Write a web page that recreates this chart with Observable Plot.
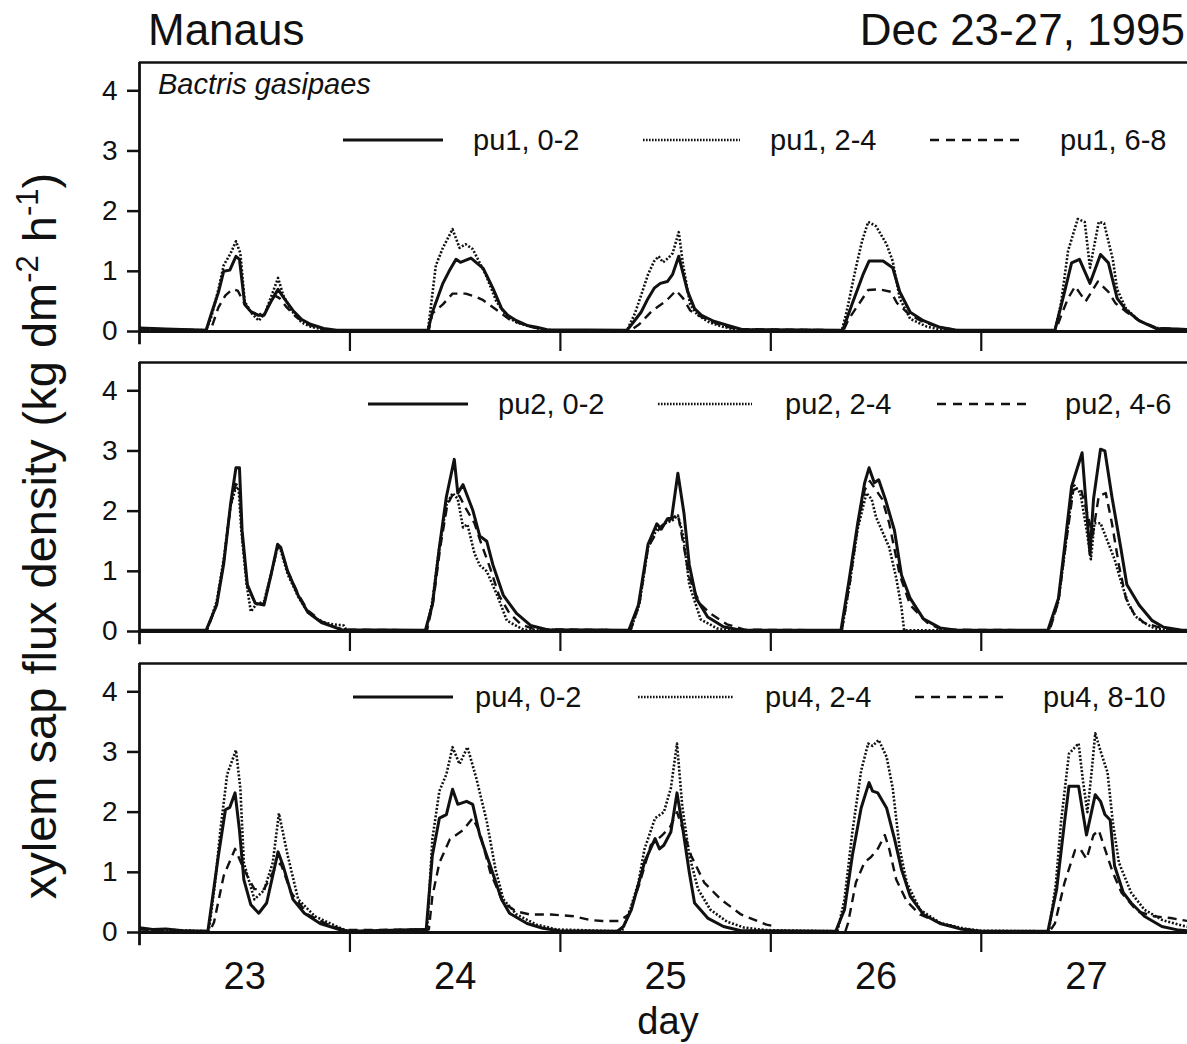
<!DOCTYPE html>
<html><head><meta charset="utf-8">
<script src="https://cdn.jsdelivr.net/npm/d3@7"></script>
<script src="https://cdn.jsdelivr.net/npm/@observablehq/plot@0.6"></script>
<style>
body{margin:0;background:#fff;}
#wrap{position:relative;width:1187px;height:1044px;overflow:hidden;background:#fff;font-family:"Liberation Sans",Arial,Helvetica,sans-serif;}
.panel{position:absolute;left:0;}
#overlay{position:absolute;left:0;top:0;}
</style></head><body><div id="wrap"></div>
<script>
// ---- data: [hour since 0:00 Dec 23, sap flux density] ----
const pu1_0_2 = [[0,0.06],[3,0.04],[7.6,0.02],[8.2,0.3],[9.0,0.65],[9.6,1.0],[10.3,1.02],[11.0,1.25],[11.4,1.2],[12.0,0.45],[12.7,0.33],[13.5,0.27],[14.2,0.27],[15.0,0.5],[15.8,0.7],[16.5,0.55],[17.5,0.35],[18.5,0.2],[19.5,0.12],[21,0.05],[22.5,0.02],
 [32.9,0.02],[33.4,0.32],[34.6,0.8],[35.3,1.0],[36.1,1.2],[36.6,1.15],[37.8,1.22],[39.2,1.05],[40.3,0.72],[41.3,0.38],[42.0,0.27],[43.0,0.18],[44.2,0.1],[45.3,0.07],[46.5,0.03],
 [55.6,0.02],[56.3,0.15],[57.2,0.32],[58.0,0.55],[58.7,0.72],[59.4,0.8],[60.2,0.83],[60.8,0.95],[61.5,1.25],[62.5,0.67],[63.3,0.38],[64.1,0.27],[65.5,0.17],[67.1,0.1],[68.8,0.03],
 [80.2,0.02],[81.3,0.47],[82.5,0.94],[83.2,1.17],[84.8,1.17],[85.9,1.06],[86.7,0.66],[87.9,0.32],[89.4,0.18],[91.3,0.07],[93.2,0.02],
 [104.4,0.02],[105.5,0.66],[106.3,1.14],[107.2,1.2],[108.4,0.8],[109.6,1.28],[110.5,1.14],[111.5,0.55],[112.5,0.36],[114.0,0.18],[115.9,0.05],[118.3,0.04],[120,0.03]];
const pu1_2_4 = [[0,0.04],[7.6,0.02],[8.2,0.25],[9.0,0.7],[9.6,1.1],[10.4,1.3],[11.0,1.5],[11.5,1.3],[12.0,0.5],[12.8,0.3],[13.6,0.18],[14.3,0.3],[15.2,0.65],[15.8,0.89],[16.4,0.6],[17.3,0.35],[18.5,0.15],[19.5,0.08],[21,0.03],[23,0.01],
 [32.9,0.02],[33.3,0.5],[33.8,1.1],[34.6,1.39],[35.7,1.7],[36.5,1.39],[37.2,1.45],[38.0,1.37],[39.5,0.94],[40.7,0.5],[41.9,0.25],[43.0,0.15],[44.2,0.1],[45.5,0.05],[47,0.02],
 [55.6,0.02],[56.5,0.3],[57.2,0.6],[58.0,0.95],[58.7,1.17],[59.2,1.25],[59.7,1.15],[60.3,1.22],[60.8,1.3],[61.5,1.65],[62.0,1.1],[62.8,0.45],[63.6,0.28],[65,0.15],[66.5,0.08],[68,0.03],
 [80.1,0.02],[80.6,0.3],[81.7,1.06],[82.4,1.5],[83.1,1.82],[84.0,1.75],[85.2,1.45],[85.9,1.17],[86.7,0.55],[87.9,0.21],[89.8,0.08],[91.7,0.02],
 [104.4,0.02],[105.1,0.47],[105.9,1.34],[107.0,1.87],[107.8,1.82],[108.4,1.06],[109.4,1.82],[110.0,1.8],[111.0,1.2],[111.5,0.7],[112.5,0.38],[114.0,0.18],[115.9,0.06],[118,0.03],[120,0.02]];
const pu1_6_8 = [[0,0.05],[7.8,0.02],[8.3,0.1],[9.0,0.4],[9.8,0.6],[10.6,0.7],[11.2,0.68],[12.0,0.45],[12.8,0.33],[13.6,0.27],[14.4,0.35],[15.4,0.6],[16.0,0.55],[16.8,0.4],[17.8,0.25],[19,0.13],[20.5,0.05],[22,0.02],
 [33.0,0.02],[33.4,0.3],[34.6,0.45],[35.7,0.63],[37.2,0.63],[38.3,0.58],[39.2,0.52],[40.7,0.36],[42.2,0.2],[44.5,0.08],[46.5,0.02],
 [56.0,0.02],[57.0,0.12],[58.5,0.35],[60.0,0.5],[61.2,0.68],[62.0,0.55],[62.8,0.35],[64.0,0.25],[66,0.12],[68,0.04],
 [80.3,0.02],[80.9,0.21],[82.1,0.47],[83.1,0.69],[84.4,0.7],[85.7,0.66],[86.4,0.47],[87.9,0.27],[89.5,0.15],[91.5,0.06],[93.5,0.02],
 [104.5,0.02],[105.2,0.3],[105.9,0.55],[106.7,0.75],[107.9,0.5],[109.3,0.83],[110.5,0.66],[111.3,0.47],[112.5,0.33],[114,0.18],[116,0.06],[118.5,0.04],[120,0.03]];

const pu2_0_2 = [[0,0.02],[7.6,0.02],[8.8,0.44],[9.6,1.12],[10.4,2.13],[11.0,2.72],[11.4,2.72],[11.7,1.68],[12.3,0.78],[13.2,0.47],[14.2,0.44],[15.0,0.94],[15.75,1.45],[16.1,1.4],[16.9,1.0],[18.1,0.6],[19.2,0.32],[20.75,0.15],[23.0,0.03],
 [32.6,0.02],[33.4,0.44],[34.2,1.4],[35.0,2.24],[35.9,2.86],[36.3,2.3],[36.9,2.44],[38.0,2.02],[38.8,1.59],[39.6,1.5],[40.3,1.11],[41.5,0.6],[43.0,0.3],[44.6,0.1],[46.5,0.03],
 [55.8,0.02],[56.9,0.44],[58.0,1.45],[59.0,1.79],[59.5,1.7],[60.2,1.87],[60.7,1.9],[61.4,2.63],[62.1,1.96],[62.7,1.11],[63.5,0.55],[64.8,0.24],[66.6,0.08],[68.6,0.02],
 [80.0,0.02],[80.9,0.83],[81.9,1.79],[82.7,2.47],[83.2,2.72],[83.8,2.47],[84.3,2.52],[85.1,2.18],[86.1,1.68],[86.9,0.94],[87.9,0.55],[89.4,0.21],[91.3,0.06],[93.2,0.02],
 [103.6,0.02],[104.8,0.55],[105.5,1.4],[106.3,2.41],[107.5,2.97],[108.4,1.28],[108.8,2.2],[109.6,3.03],[110.1,3.0],[110.9,2.24],[111.9,1.4],[112.6,0.78],[114.0,0.44],[115.5,0.18],[116.8,0.07],[118.9,0.02],[120,0.02]];
const pu2_2_4 = [[0,0.02],[7.7,0.02],[8.8,0.5],[9.6,1.2],[10.4,2.1],[10.9,2.35],[11.3,2.4],[11.6,1.7],[12.2,0.8],[12.7,0.33],[13.3,0.45],[14.2,0.5],[15.0,0.95],[15.75,1.4],[16.1,1.35],[16.9,0.95],[18.1,0.58],[19.2,0.32],[20.75,0.16],[22,0.12],[23.3,0.1],[23.6,0.02],
 [32.7,0.02],[33.4,0.5],[34.2,1.4],[35.0,2.1],[35.7,2.3],[36.3,2.2],[36.9,1.73],[37.4,1.78],[38.2,1.3],[38.8,1.1],[39.6,1.0],[40.8,0.6],[41.9,0.18],[43.8,0.03],
 [56.0,0.02],[57.0,0.45],[58.0,1.4],[59.0,1.7],[60.0,1.8],[60.8,1.85],[61.4,1.93],[62.0,1.6],[62.7,0.78],[64.0,0.2],[65.9,0.05],[67.5,0.02],
 [80.1,0.02],[81.0,0.8],[81.9,1.7],[82.9,2.3],[83.5,2.2],[84.0,1.9],[85.5,1.4],[86.3,0.89],[86.9,0.4],[87.2,0.02],[90,0.02],
 [103.7,0.02],[104.8,0.5],[105.5,1.3],[106.5,2.45],[107.3,2.3],[108.0,1.7],[108.5,1.2],[108.9,1.8],[109.6,1.8],[110.4,1.5],[111.2,1.2],[112.0,0.8],[112.8,0.45],[113.6,0.25],[114.5,0.15],[115.8,0.05],[117.5,0.02],[120,0.02]];
const pu2_4_6 = [[0,0.02],[7.7,0.02],[8.8,0.45],[9.6,1.15],[10.4,2.1],[11.0,2.45],[11.4,2.4],[11.7,1.6],[12.3,0.75],[13.2,0.47],[14.2,0.46],[15.0,0.94],[15.75,1.42],[16.1,1.38],[16.9,1.0],[18.1,0.62],[19.2,0.35],[20.75,0.17],[22.5,0.06],[23.5,0.03],
 [32.8,0.02],[33.5,0.5],[34.3,1.4],[35.1,2.1],[35.8,2.3],[36.5,2.25],[37.2,2.05],[38.2,1.8],[39.0,1.45],[40.0,1.05],[41.0,0.6],[42.2,0.3],[43.5,0.12],[45,0.04],
 [56.0,0.02],[57.0,0.45],[58.0,1.4],[59.0,1.65],[59.5,1.75],[60.5,1.85],[61.4,1.95],[62.1,1.4],[62.7,0.9],[63.3,0.66],[64.0,0.45],[65.1,0.3],[67.0,0.12],[69,0.03],
 [80.1,0.02],[81.0,0.8],[81.9,1.75],[82.7,2.35],[83.3,2.5],[84.0,2.35],[84.7,2.2],[85.5,1.8],[86.7,0.94],[87.9,0.44],[89.8,0.15],[91.5,0.03],
 [103.8,0.02],[104.8,0.5],[105.5,1.3],[106.5,2.35],[107.3,2.4],[108.2,1.9],[108.7,1.6],[109.4,2.25],[110.2,2.3],[110.9,1.8],[111.7,1.1],[112.5,0.55],[113.4,0.3],[114.5,0.15],[116,0.08],[117.5,0.02],[120,0.02]];

const pu4_0_2 = [[0,0.08],[1.5,0.05],[3,0.06],[5,0.03],[7.8,0.02],[9.0,1.28],[9.8,2.04],[10.3,2.08],[10.9,2.32],[11.4,1.7],[11.9,0.88],[12.7,0.46],[13.6,0.32],[14.5,0.49],[15.8,1.34],[16.4,1.1],[17.5,0.55],[18.8,0.32],[20.6,0.15],[22.8,0.05],[24,0.02],
 [32.4,0.05],[32.7,0.05],[33.4,1.28],[34.2,1.9],[35.0,1.96],[35.7,2.38],[36.3,2.13],[37.3,2.18],[38.0,2.13],[38.8,1.62],[40.0,1.11],[41.3,0.55],[42.2,0.32],[44.2,0.15],[46.0,0.07],[47.9,0.03],
 [54.5,0.02],[55.2,0.1],[56.1,0.38],[57.6,1.17],[58.8,1.56],[59.3,1.39],[59.8,1.45],[60.6,1.67],[61.3,2.32],[61.9,1.78],[62.7,1.0],[63.3,0.49],[64.8,0.24],[66.6,0.1],[68.6,0.03],
 [79.4,0.02],[80.4,0.38],[81.3,1.28],[82.3,2.07],[83.2,2.49],[83.6,2.35],[84.2,2.32],[85.2,2.07],[86.1,1.56],[86.9,1.05],[87.9,0.6],[89.4,0.3],[91.3,0.15],[93.6,0.06],[95.9,0.02],
 [103.6,0.02],[104.6,0.72],[105.5,1.84],[106.0,2.43],[107.1,2.43],[108.0,1.62],[109.0,2.29],[109.6,2.18],[110.1,1.96],[110.7,1.87],[111.2,1.11],[112.2,0.66],[113.1,0.49],[114.6,0.27],[116.6,0.1],[118.5,0.04],[120,0.02]];
const pu4_2_4 = [[0,0.06],[7.9,0.02],[8.6,0.8],[9.2,1.67],[10.0,2.63],[11.0,3.03],[11.5,2.4],[11.9,1.16],[13.1,0.55],[14.2,0.7],[15.2,1.16],[15.9,1.98],[16.9,1.28],[18.1,0.55],[20.0,0.27],[22.2,0.12],[23.8,0.02],
 [32.8,0.05],[33.4,1.55],[34.2,2.35],[35.0,2.63],[35.7,3.08],[36.5,2.8],[37.4,3.08],[38.4,2.57],[39.6,1.85],[40.6,1.05],[41.5,0.55],[43.0,0.3],[45.3,0.13],[47.6,0.05],
 [55.0,0.02],[56.0,0.4],[56.9,0.83],[57.6,1.39],[58.8,1.9],[59.8,2.0],[60.6,2.4],[61.3,3.14],[61.9,2.1],[62.7,1.28],[63.7,0.72],[65.1,0.38],[67.0,0.18],[69,0.08],[71.4,0.04],
 [79.6,0.02],[80.4,0.55],[81.3,1.67],[82.3,2.69],[83.1,3.14],[83.6,3.1],[84.3,3.2],[85.2,2.92],[85.9,2.4],[86.7,1.39],[87.5,0.83],[89.0,0.38],[91.3,0.16],[93.9,0.07],[96,0.03],
 [103.7,0.02],[104.5,0.8],[105.1,1.84],[106.0,2.97],[107.1,3.14],[107.6,2.52],[108.1,2.0],[108.6,2.69],[109.0,3.31],[109.7,2.97],[110.4,2.66],[111.0,1.84],[111.7,1.16],[113.1,0.66],[114.6,0.38],[116.6,0.21],[118.5,0.13],[120,0.08]];
const pu4_8_10 = [[0,0.05],[8.0,0.02],[8.5,0.17],[9.6,0.94],[10.9,1.39],[11.9,1.05],[13.1,0.72],[14.2,0.72],[15.4,1.05],[16.1,1.15],[17.3,0.66],[19.2,0.3],[21.5,0.13],[23.4,0.04],
 [33.0,0.05],[33.4,0.6],[34.2,1.16],[35.4,1.55],[36.9,1.7],[38.0,1.9],[38.8,1.67],[40.0,1.0],[41.5,0.49],[43.0,0.35],[44.5,0.3],[46.9,0.3],[49.5,0.27],[51.3,0.21],[52.8,0.19],[54.7,0.19],
 [55.8,0.3],[57.0,0.8],[58.3,1.45],[59.5,1.6],[60.5,1.75],[61.3,2.0],[62.0,1.7],[62.9,1.28],[64.4,0.83],[66.3,0.55],[68.6,0.3],[71.5,0.13],[72.5,0.1],[72.6,null],
 [80.5,0.02],[80.8,0.15],[81.7,0.83],[82.7,1.17],[83.4,1.25],[84.2,1.39],[85.0,1.62],[85.5,1.39],[86.3,0.88],[87.5,0.52],[89.0,0.3],[91.3,0.16],[93.9,0.06],[96,0.02],
 [103.8,0.02],[104.4,0.15],[105.5,0.83],[106.7,1.37],[107.3,1.39],[108.0,1.22],[108.8,1.62],[109.4,1.7],[110.1,1.39],[111.0,1.0],[112.0,0.66],[113.8,0.35],[115.7,0.27],[117.6,0.24],[119.6,0.19],[120,0.18]];

const seriesNames = [["pu1, 0-2","pu1, 2-4","pu1, 6-8"],["pu2, 0-2","pu2, 2-4","pu2, 4-6"],["pu4, 0-2","pu4, 2-4","pu4, 8-10"]];
const seriesData = [[pu1_0_2,pu1_2_4,pu1_6_8],[pu2_0_2,pu2_2_4,pu2_4_6],[pu4_0_2,pu4_2_4,pu4_8_10]];
const yTicks = [0,1,2,3,4];
const dayBoundaries = [24,25,26,27];
const dayCenters = [23.5,24.5,25.5,26.5,27.5];
const dayLabels = ["23","24","25","26","27"];
const startDay = 23; // 0 h = 0:00 Dec 23

// ---- styles / layout ----
const FONT = '"Liberation Sans", Arial, Helvetica, sans-serif';
const lineStyles = [
  {strokeWidth: 3.0, strokeDasharray: null},
  {strokeWidth: 2.6, strokeDasharray: "2,1.8"},
  {strokeWidth: 2.4, strokeDasharray: "9,6"}
];
const legendLayout = [
  {y: 140, lines: [[343,443],[643,740],[930,1020]], text: [473,770,1060]},
  {y: 404, lines: [[368,468],[658,752],[937,1027]], text: [498,785,1065]},
  {y: 697, lines: [[353,453],[638,734],[915,1003]], text: [475,765,1043]}
];
const YMAX = 4.47, XMAX = 27.98;

const wrap = document.getElementById("wrap");

seriesData.forEach((group, p) => {
  const rows = [];
  group.forEach((arr, s) => arr.forEach(([h, v]) => rows.push({s, t: startDay + h / 24, v})));
  const last = p === 2;
  const marks = [
    Plot.axisY({ticks: yTicks, tickSize: 12, tickPadding: 10, fontSize: 28, strokeWidth: 2.5, label: null, tickFormat: d => String(d)}),
    Plot.axisX({ticks: dayBoundaries, tickSize: 20, strokeWidth: 2.2, label: null, tickFormat: () => ""}),
    Plot.ruleY([YMAX], {strokeWidth: 2.5}),
    Plot.ruleX([startDay], {y1: -0.22, y2: YMAX, strokeWidth: 2.8}),
    Plot.ruleY([0], {strokeWidth: 3})
  ];
  if (last) marks.push(Plot.axisX({ticks: dayCenters, tickSize: 0, tickPadding: 30, fontSize: 38, label: null, tickFormat: (d, i) => dayLabels[i]}));
  group.forEach((arr, s) => {
    marks.push(Plot.line(rows.filter(r => r.s === s), {
      x: "t", y: "v", stroke: "#111", strokeWidth: lineStyles[s].strokeWidth,
      strokeDasharray: lineStyles[s].strokeDasharray, strokeLinejoin: "round", strokeLinecap: "butt"
    }));
  });
  const chart = Plot.plot({
    width: 1187, height: 2 + 269 + (last ? 80 : 25),
    marginLeft: 139, marginRight: 0, marginTop: 2, marginBottom: last ? 80 : 25,
    x: {domain: [startDay, XMAX]}, y: {domain: [0, YMAX]},
    style: {fontFamily: FONT, color: "#111", background: "transparent", overflow: "visible"},
    marks
  });
  chart.classList.add("panel");
  chart.style.top = (60 + 300.3 * p) + "px";
  wrap.appendChild(chart);
});

// ---- overlay: titles, legends, axis titles ----
const svg = d3.select(wrap).append("svg").attr("id", "overlay")
  .attr("width", 1187).attr("height", 1044)
  .style("font-family", FONT).style("pointer-events", "none");
svg.append("text").attr("x", 148).attr("y", 45).attr("font-size", 44).attr("fill", "#111").text("Manaus");
svg.append("text").attr("x", 1185).attr("y", 45).attr("font-size", 44).attr("text-anchor", "end").attr("fill", "#111").text("Dec 23-27, 1995");
svg.append("text").attr("x", 158).attr("y", 94).attr("font-size", 29).attr("font-style", "italic").attr("fill", "#111").text("Bactris gasipaes");

legendLayout.forEach((L, p) => {
  for (let s = 0; s < 3; s++) {
    svg.append("line").attr("x1", L.lines[s][0]).attr("x2", L.lines[s][1]).attr("y1", L.y).attr("y2", L.y)
      .attr("stroke", "#111").attr("stroke-width", s === 0 ? 3 : 2.6)
      .attr("stroke-dasharray", s === 0 ? null : s === 1 ? "1.6,1.4" : "9,7");
    svg.append("text").attr("x", L.text[s]).attr("y", L.y + 10).attr("font-size", 29).attr("fill", "#111").text(seriesNames[p][s]);
  }
});

svg.append("text").attr("x", 668).attr("y", 1034).attr("font-size", 38).attr("text-anchor", "middle").attr("fill", "#111").text("day");

const yt = svg.append("text").attr("transform", "translate(56,536) rotate(-90)")
  .attr("text-anchor", "middle").attr("font-size", 47).attr("fill", "#111");
yt.append("tspan").text("xylem sap flux density (kg dm");
yt.append("tspan").attr("dy", -18).attr("font-size", 31).text("-2");
yt.append("tspan").attr("dy", 18).text(" h");
yt.append("tspan").attr("dy", -18).attr("font-size", 31).text("-1");
yt.append("tspan").attr("dy", 18).text(")");
</script></body></html>
